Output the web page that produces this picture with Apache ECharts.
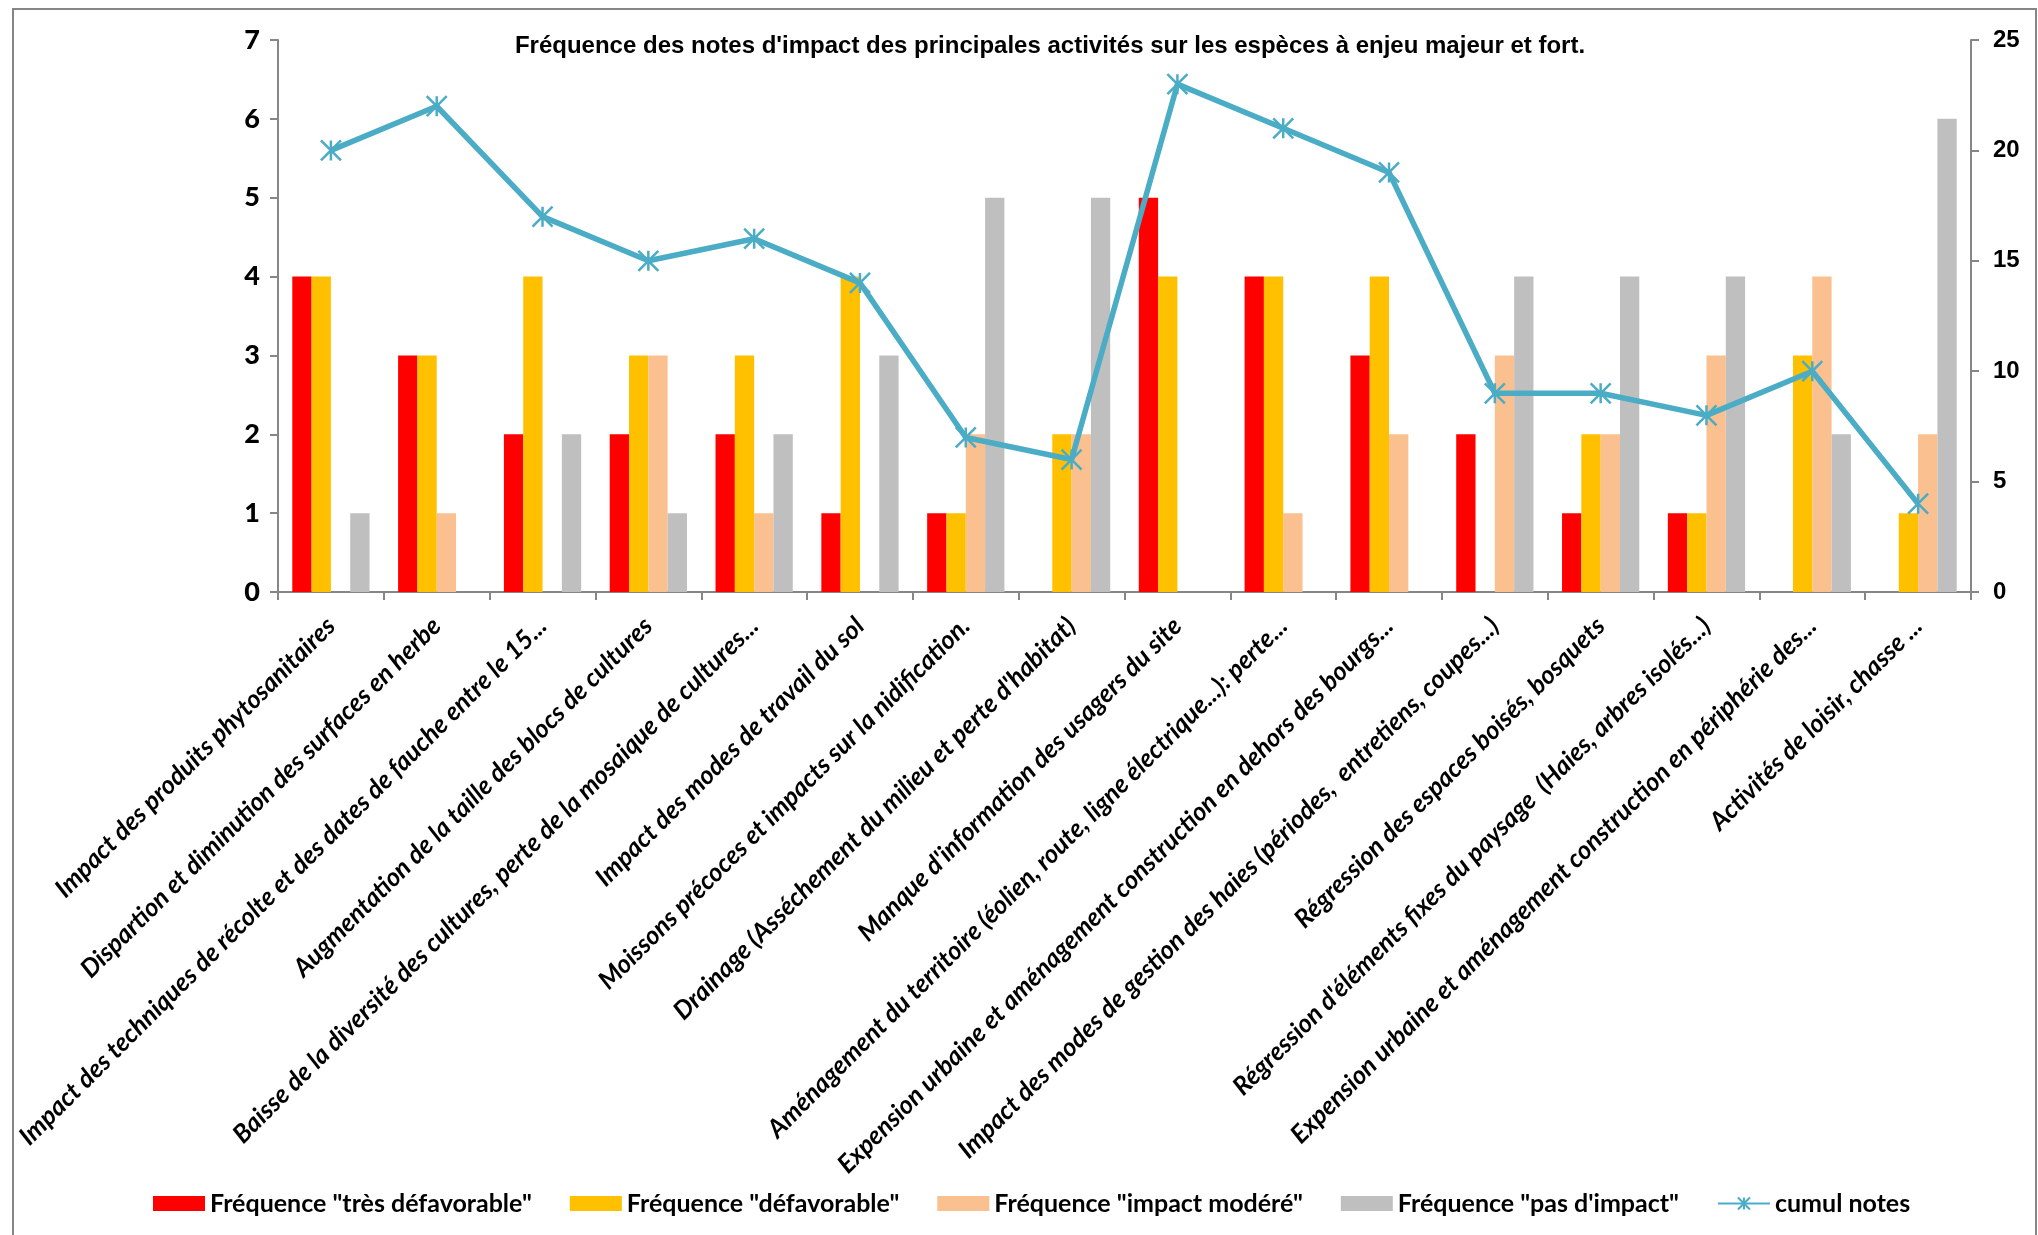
<!DOCTYPE html>
<html>
<head>
<meta charset="utf-8">
<script src="https://cdn.jsdelivr.net/npm/echarts@6/dist/echarts.min.js"></script>
<style>
  html, body { margin: 0; padding: 0; background: #ffffff; }
  #chart { width: 2038px; height: 1235px; }
</style>
</head>
<body>
<div id="chart"></div>
<script>
// Activités évaluées
const categories = [
  "Impact des produits phytosanitaires",
  "Dispartion et diminution des surfaces en herbe",
  "Impact des techniques de récolte et des dates de fauche entre le 15...",
  "Augmentation de la taille des blocs de cultures",
  "Baisse de la diversité des cultures, perte de la mosaique de cultures...",
  "Impact des modes de travail du sol",
  "Moissons précoces et impacts sur la nidification.",
  "Drainage (Asséchement du milieu et perte d'habitat)",
  "Manque d'information des usagers du site",
  "Aménagement du territoire (éolien, route, ligne électrique...): perte...",
  "Expension urbaine et aménagement construction en dehors des bourgs...",
  "Impact des modes de gestion des haies (périodes,  entretiens, coupes...)",
  "Régression des espaces boisés, bosquets",
  "Régression d'éléments fixes du paysage  (Haies, arbres isolés...)",
  "Expension urbaine et aménagement construction en périphérie des...",
  "Activités de loisir, chasse ..."
];

// Fréquences des notes par activité
const tresDefavorable = [4, 3, 2, 2, 2, 1, 1, 0, 5, 4, 3, 2, 1, 1, 0, 0];
const defavorable     = [4, 3, 4, 3, 3, 4, 1, 2, 4, 4, 4, 0, 2, 1, 3, 1];
const impactModere    = [0, 1, 0, 3, 1, 0, 2, 2, 0, 1, 2, 3, 2, 3, 4, 2];
const pasImpact       = [1, 0, 2, 1, 2, 3, 5, 5, 0, 0, 0, 4, 4, 4, 2, 6];

// Cumul des notes (axe secondaire)
const cumulNotes = [20, 22, 17, 15, 16, 14, 7, 6, 23, 21, 19, 9, 9, 8, 10, 4];

const titleText = "Fréquence des notes d'impact des principales activités sur les espèces à enjeu majeur et fort.";

const arialLike = '"Liberation Sans", Arial, sans-serif';
const humanist = 'Lato, Calibri, "Open Sans", sans-serif';
const axisGrey = '#868686';

const chart = echarts.init(document.getElementById('chart'), null, { renderer: 'canvas' });

const barSeries = (name, data, color) => ({
  name: name,
  type: 'bar',
  yAxisIndex: 0,
  data: data,
  barGap: '0%',
  barCategoryGap: '27%',
  itemStyle: { color: color },
  emphasis: { disabled: true }
});

chart.setOption({
  animation: false,
  backgroundColor: '#ffffff',
  graphic: [{
    type: 'rect',
    shape: { x: 13, y: 9, width: 2023, height: 1260 },
    style: { fill: 'none', stroke: axisGrey, lineWidth: 2 },
    silent: true
  }, {
    type: 'text',
    x: 1050,
    y: 46,
    style: {
      text: titleText,
      textAlign: 'center',
      textVerticalAlign: 'middle',
      fontFamily: arialLike,
      fontWeight: 'bold',
      fontSize: 24,
      fill: '#000000'
    },
    silent: true
  }],
  legend: {
    left: 148,
    top: 1186,
    itemWidth: 52,
    itemHeight: 15,
    itemGap: 38,
    textStyle: { fontFamily: humanist, fontWeight: 'bold', fontSize: 25, color: '#000000' },
    data: [
      { name: 'Fréquence "très défavorable"', icon: 'rect' },
      { name: 'Fréquence "défavorable"', icon: 'rect' },
      { name: 'Fréquence "impact modéré"', icon: 'rect' },
      { name: 'Fréquence "pas d\'impact"', icon: 'rect' },
      { name: 'cumul notes' }
    ]
  },
  grid: { left: 278, right: 67, top: 40, bottom: 643, containLabel: false },
  xAxis: {
    type: 'category',
    data: categories,
    boundaryGap: true,
    axisLine: { show: true, lineStyle: { color: axisGrey, width: 2 } },
    axisTick: { show: true, alignWithLabel: false, length: 8, lineStyle: { color: axisGrey, width: 2 } },
    axisLabel: {
      interval: 0,
      rotate: 45,
      margin: 30,
      fontFamily: humanist,
      fontStyle: 'italic',
      fontWeight: 'bold',
      fontSize: 25.5,
      color: '#000000'
    }
  },
  yAxis: [{
    type: 'value',
    min: 0, max: 7, interval: 1,
    position: 'left',
    splitLine: { show: false },
    axisLine: { show: true, lineStyle: { color: axisGrey, width: 2 } },
    axisTick: { show: true, length: 8, lineStyle: { color: axisGrey, width: 2 } },
    axisLabel: { margin: 18, fontFamily: humanist, fontWeight: 900, fontSize: 27, color: '#000000' }
  }, {
    type: 'value',
    min: 0, max: 25, interval: 5,
    position: 'right',
    splitLine: { show: false },
    axisLine: { show: true, lineStyle: { color: axisGrey, width: 2 } },
    axisTick: { show: true, length: 8, lineStyle: { color: axisGrey, width: 2 } },
    axisLabel: { margin: 22, fontFamily: arialLike, fontWeight: 'bold', fontSize: 24, color: '#000000' }
  }],
  series: [
    barSeries('Fréquence "très défavorable"', tresDefavorable, '#FF0000'),
    barSeries('Fréquence "défavorable"', defavorable, '#FFC000'),
    barSeries('Fréquence "impact modéré"', impactModere, '#FAC090'),
    barSeries('Fréquence "pas d\'impact"', pasImpact, '#BFBFBF'),
    {
      name: 'cumul notes',
      type: 'line',
      yAxisIndex: 1,
      data: cumulNotes,
      symbol: 'path://M0,0 L20,20 M20,0 L0,20 M10,0 L10,20',
      symbolSize: 20,
      showAllSymbol: true,
      lineStyle: { color: '#4BACC6', width: 5.5 },
      itemStyle: { color: '#4BACC6', borderColor: '#4BACC6', borderWidth: 2.5 },
      emphasis: { disabled: true },
      z: 3
    }
  ]
});
</script>
</body>
</html>
